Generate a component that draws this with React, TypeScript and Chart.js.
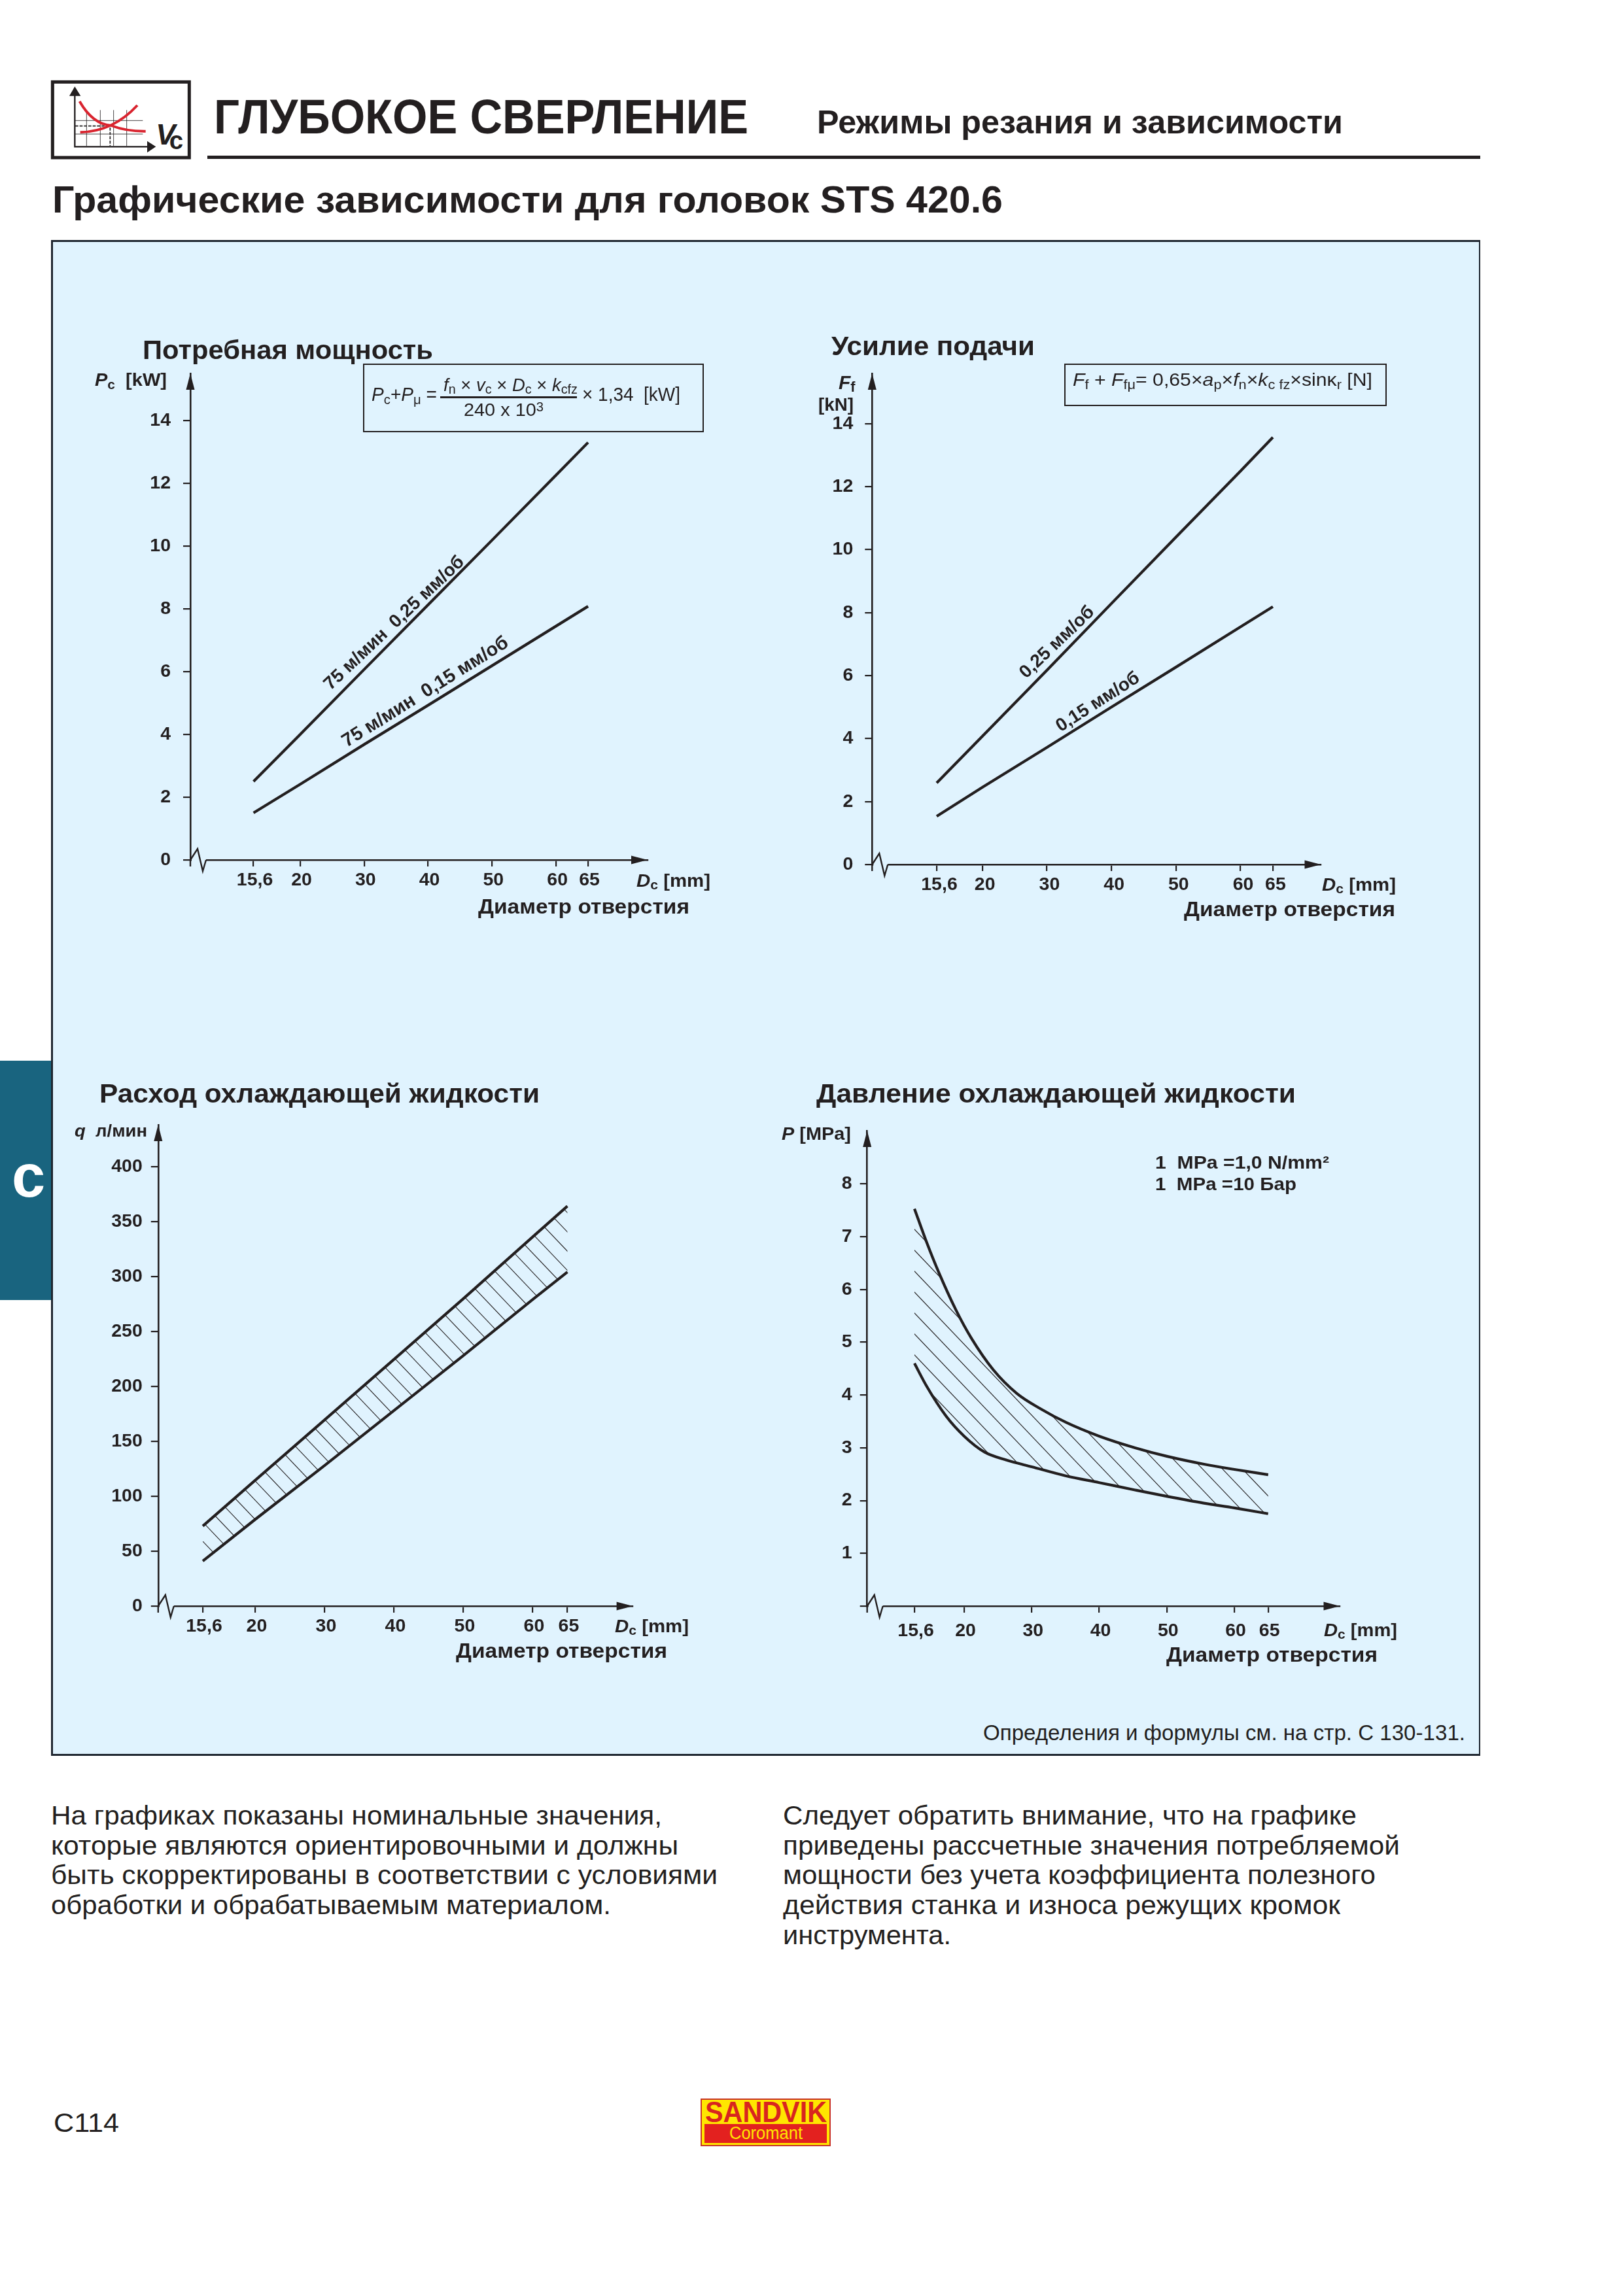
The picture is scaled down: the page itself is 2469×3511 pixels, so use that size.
import React, { useEffect, useRef } from "react";
import { Chart, LinearScale, LineController, LineElement, PointElement } from "chart.js";

// ---------- data ----------
const xTickValues = [15.6, 20, 30, 40, 50, 60, 65];
const xTickLabels = ["15,6", "20", "30", "40", "50", "60", "65"];

const powerTicks = [0, 2, 4, 6, 8, 10, 12, 14];
const powerFast = [2.5, 4.0, 6.07, 8.13, 10.19, 12.26, 13.3];
const powerSlow = [1.5, 2.41, 3.68, 4.93, 6.19, 7.45, 8.08];

const forceTicks = [0, 2, 4, 6, 8, 10, 12, 14];
const forceFast = [2.59, 4.07, 6.17, 8.29, 10.4, 12.5, 13.57];
const forceSlow = [1.53, 2.45, 3.72, 5.0, 6.27, 7.55, 8.19];

const flowTicks = [0, 50, 100, 150, 200, 250, 300, 350, 400];
const flowUpper = [72.8, 114.6, 169.5, 224.6, 279.8, 336, 364];
const flowLower = [41, 79, 128, 178, 228, 279, 304];

const pressureTicks = [0, 1, 2, 3, 4, 5, 6, 7, 8];
const pressureTickLabels = ["", "1", "2", "3", "4", "5", "6", "7", "8"];
const pressureUpperX = [15.6, 16.67, 17.8, 19.3, 21.1, 24.3, 27.8, 31.3, 35.1, 40, 45.3, 50, 55.5, 60, 65];
const pressureUpper = [7.53, 6.9, 6.3, 5.6, 5.07, 4.48, 4.03, 3.74, 3.48, 3.22, 3.0, 2.84, 2.69, 2.59, 2.49];
const pressureLowerX = [15.6, 16.67, 18.4, 20, 23, 26.2, 30, 35, 40, 45.3, 50, 55.5, 60, 65];
const pressureLower = [4.6, 4.17, 3.6, 3.22, 2.92, 2.77, 2.64, 2.47, 2.34, 2.2, 2.08, 1.95, 1.86, 1.75];

// ---------- style ----------
const INK = "#231f20";
const PANEL = "#e0f3fe";
const SANS = '"Liberation Sans", Arial, sans-serif';

// The drawn axis is stretched below Dc = 20, so the scale bends there.
class BentLinearScale extends LinearScale {
  static id = "bentLinear";
  static defaults = LinearScale.defaults;
  getPixelForValue(value: number) {
    const k = (this.options as any).bend ?? 1;
    return super.getPixelForValue(value < 20 ? 20 - (20 - value) * k : value);
  }
}
Chart.register(LinearScale, BentLinearScale, LineController, LineElement, PointElement);

type Spec = {
  box: { left: number; top: number; right: number; bottom: number };
  area: { left: number; top: number; right: number; bottom: number };
  xMin: number;
  xMax: number;
  bend: number;
  yMax: number;
  yTicks: number[];
  yLabels?: string[];
  yPad: number;
  xPad: number;
  xShift: number;
  series: { x: number[]; y: number[]; tension?: number }[];
  hatch?: { x: number; y: number; slope: number; gap: number };
  notes?: { text: string; x: number; y: number; angle: number; size: number }[];
};

function decorPlugin(spec: Spec) {
  return {
    id: "decor",
    beforeDatasetsDraw(chart: any) {
      const h = spec.hatch;
      if (!h) return;
      const { ctx, chartArea: ca } = chart;
      const a = chart.getDatasetMeta(0).data;
      const b = chart.getDatasetMeta(1).data;
      ctx.save();
      ctx.beginPath();
      a.forEach((p: any, i: number) => (i ? ctx.lineTo(p.x, p.y) : ctx.moveTo(p.x, p.y)));
      [...b].reverse().forEach((p: any) => ctx.lineTo(p.x, p.y));
      ctx.closePath();
      ctx.clip();
      ctx.strokeStyle = INK;
      ctx.lineWidth = 1.1;
      const c0 = h.y - spec.box.top - h.slope * (h.x - spec.box.left);
      for (let n = -80; n < 80; n++) {
        const c = c0 + n * h.gap;
        ctx.beginPath();
        ctx.moveTo(ca.left, c + h.slope * ca.left);
        ctx.lineTo(ca.right, c + h.slope * ca.right);
        ctx.stroke();
      }
      ctx.restore();
    },
    afterDraw(chart: any) {
      const { ctx, chartArea: ca, scales } = chart;
      const L = ca.left;
      const B = ca.bottom;
      ctx.save();
      // axis break
      ctx.fillStyle = PANEL;
      ctx.fillRect(L + 2, B - 3, 22, 6);
      ctx.strokeStyle = INK;
      ctx.lineWidth = 2.4;
      ctx.beginPath();
      ctx.moveTo(L, B);
      ctx.lineTo(L + 11, B - 17);
      ctx.lineTo(L + 19, B + 17);
      ctx.lineTo(L + 24, B);
      ctx.stroke();
      // axis foot below the origin
      ctx.beginPath();
      ctx.moveTo(L, B);
      ctx.lineTo(L, B + 10);
      ctx.stroke();
      // arrowheads
      ctx.fillStyle = INK;
      ctx.beginPath();
      ctx.moveTo(L, ca.top);
      ctx.lineTo(L - 6.5, ca.top + 25);
      ctx.lineTo(L + 6.5, ca.top + 25);
      ctx.closePath();
      ctx.fill();
      ctx.beginPath();
      ctx.moveTo(ca.right, B);
      ctx.lineTo(ca.right - 25, B - 6.5);
      ctx.lineTo(ca.right - 25, B + 6.5);
      ctx.closePath();
      ctx.fill();
      // notes along the lines
      ctx.textBaseline = "alphabetic";
      ctx.textAlign = "left";
      (spec.notes || []).forEach((n) => {
        ctx.save();
        ctx.font = `bold ${n.size}px ${SANS}`;
        ctx.translate(scales.x.getPixelForValue(n.x), scales.y.getPixelForValue(n.y));
        ctx.rotate((n.angle * Math.PI) / 180);
        ctx.fillText(n.text, 0, 0);
        ctx.restore();
      });
      ctx.restore();
    },
  };
}

function LineChart({ spec }: { spec: Spec }) {
  const ref = useRef<HTMLCanvasElement | null>(null);
  const { box, area } = spec;
  const width = box.right - box.left;
  const height = box.bottom - box.top;
  useEffect(() => {
    const tickFont = { family: SANS, size: 28.5, weight: "bold" as const };
    const chart = new Chart(ref.current as HTMLCanvasElement, {
      type: "line",
      data: {
        datasets: spec.series.map((s) => ({
          data: s.x.map((x, i) => ({ x, y: s.y[i] })),
          borderColor: INK,
          borderWidth: 4.2,
          pointRadius: 0,
          fill: false,
          tension: s.tension ?? 0,
          cubicInterpolationMode: s.tension ? ("monotone" as const) : ("default" as const),
        })),
      },
      options: {
        animation: false,
        responsive: false,
        devicePixelRatio: 1,
        layout: {
          padding: { left: 0, top: area.top - box.top, right: box.right - area.right, bottom: 0 },
        },
        plugins: { legend: { display: false }, title: { display: false }, tooltip: { enabled: false } },
        scales: {
          x: {
            type: "bentLinear" as any,
            bend: spec.bend,
            bounds: "data",
            min: spec.xMin,
            max: spec.xMax,
            grid: { drawOnChartArea: false, color: INK, lineWidth: 2.2, tickLength: 10 },
            border: { color: INK, width: 2.6 },
            afterBuildTicks: (s: any) => {
              s.ticks = xTickValues.map((value) => ({ value }));
            },
            afterFit: (s: any) => {
              s.height = box.bottom - area.bottom;
            },
            ticks: {
              autoSkip: false,
              maxRotation: 0,
              minRotation: 0,
              color: INK,
              font: tickFont,
              padding: spec.xPad,
              labelOffset: spec.xShift,
              callback: (_v: any, i: number) => xTickLabels[i],
            },
          } as any,
          y: {
            type: "linear",
            bounds: "data",
            min: 0,
            max: spec.yMax,
            grid: { drawOnChartArea: false, color: INK, lineWidth: 2.2, tickLength: 11 },
            border: { color: INK, width: 2.6 },
            afterBuildTicks: (s: any) => {
              s.ticks = spec.yTicks.map((value) => ({ value }));
            },
            afterFit: (s: any) => {
              s.width = area.left - box.left;
            },
            ticks: {
              autoSkip: false,
              color: INK,
              font: tickFont,
              padding: spec.yPad,
              callback: (v: any, i: number) => (spec.yLabels ? spec.yLabels[i] : String(spec.yTicks[i])),
            },
          } as any,
        },
      },
      plugins: [decorPlugin(spec)],
    });
    return () => chart.destroy();
  }, []);
  return (
    <canvas
      ref={ref}
      width={width}
      height={height}
      style={{ position: "absolute", left: box.left, top: box.top, width, height }}
    />
  );
}

const powerSpec: Spec = {
  box: { left: 110, top: 500, right: 1130, bottom: 1375 },
  area: { left: 291, top: 571, right: 990, bottom: 1315 },
  xMin: 2.82,
  xMax: 74.3,
  bend: 1.66,
  yMax: 15.5,
  yTicks: powerTicks,
  yPad: 19,
  xPad: 4,
  xShift: 2,
  series: [
    { x: xTickValues, y: powerFast },
    { x: xTickValues, y: powerSlow },
  ],
  notes: [
    { text: "75 м/мин  0,25 мм/об", x: 24.74, y: 5.39, angle: -43.5, size: 28 },
    { text: "75 м/мин  0,15 мм/об", x: 27.26, y: 3.58, angle: -32, size: 29 },
  ],
};

const forceSpec: Spec = {
  box: { left: 1230, top: 500, right: 2200, bottom: 1380 },
  area: { left: 1333.3, top: 571, right: 2019.5, bottom: 1322 },
  xMin: 2.94,
  xMax: 72.45,
  bend: 1.605,
  yMax: 15.6,
  yTicks: forceTicks,
  yPad: 18,
  xPad: 4,
  xShift: 4,
  series: [
    { x: xTickValues, y: forceFast },
    { x: xTickValues, y: forceSlow },
  ],
  notes: [
    { text: "0,25 мм/об", x: 26.8, y: 5.89, angle: -43.7, size: 28 },
    { text: "0,15 мм/об", x: 32.13, y: 4.2, angle: -32.8, size: 28 },
  ],
};

const flowSpec: Spec = {
  box: { left: 100, top: 1650, right: 1100, bottom: 2515 },
  area: { left: 241.8, top: 1720, right: 967.6, bottom: 2456 },
  xMin: 5.98,
  xMax: 74.45,
  bend: 1.724,
  yMax: 438,
  yTicks: flowTicks,
  yPad: 13,
  xPad: 4,
  xShift: 2,
  series: [
    { x: xTickValues, y: flowUpper },
    { x: xTickValues, y: flowLower },
  ],
  hatch: { x: 870.6, y: 1857.8, slope: 1.05, gap: 29.4 },
};

const pressureSpec: Spec = {
  box: { left: 1190, top: 1650, right: 2200, bottom: 2520 },
  area: { left: 1325.7, top: 1729, right: 2048.5, bottom: 2456 },
  xMin: 5.64,
  xMax: 75.63,
  bend: 1.672,
  yMax: 9.01,
  yTicks: pressureTicks,
  yLabels: pressureTickLabels,
  yPad: 12,
  xPad: 11,
  xShift: 2,
  series: [
    { x: pressureUpperX, y: pressureUpper, tension: 0.4 },
    { x: pressureLowerX, y: pressureLower, tension: 0.4 },
  ],
  hatch: { x: 1396.7, y: 2006.5, slope: 1.05, gap: 32 },
};

// ---------- page text ----------
function T({
  x,
  y,
  size,
  w,
  bold,
  italic,
  color,
  weight,
  children,
}: {
  x: number;
  y: number;
  size: number;
  w?: number;
  bold?: boolean;
  italic?: boolean;
  color?: string;
  weight?: number;
  children: React.ReactNode;
}) {
  return (
    <div
      ref={(el) => {
        if (el && w) {
          el.style.transform = "none";
          const actual = el.getBoundingClientRect().width;
          el.style.transform = `scaleX(${w / actual})`;
        }
      }}
      style={{
        position: "absolute",
        left: x,
        top: y - size * 0.3465,
        fontFamily: SANS,
        fontSize: size,
        lineHeight: 0,
        fontWeight: weight ?? (bold ? 700 : 400),
        fontStyle: italic ? "italic" : "normal",
        color: color ?? INK,
        whiteSpace: "pre",
        transformOrigin: "0 0",
      }}
    >
      {children}
    </div>
  );
}

const Sub = ({ children }: { children: React.ReactNode }) => (
  <span style={{ position: "relative", top: "0.22em", fontSize: "0.72em", fontStyle: "normal" }}>{children}</span>
);
const I = ({ children }: { children: React.ReactNode }) => <span style={{ fontStyle: "italic" }}>{children}</span>;
const Dc = () => (
  <>
    <I>D</I>
    <Sub>c</Sub> [mm]
  </>
);

const Rect = ({ x, y, w, h, fill, border }: { x: number; y: number; w: number; h: number; fill?: string; border?: string }) => (
  <div
    style={{
      position: "absolute",
      left: x,
      top: y,
      width: w,
      height: h,
      background: fill,
      border,
      boxSizing: "border-box",
    }}
  />
);

function Icon() {
  return (
    <svg
      viewBox="0 0 690 405"
      width={230}
      height={135}
      style={{ position: "absolute", left: 70, top: 115 }}
    >
      <rect x="31" y="31" width="627" height="347" fill="#fff" stroke="#231f20" strokeWidth="15" />
      <g stroke="#231f20" strokeWidth="2.5" fill="none">
        <path d="M187 160V325M250 160V325M311 160V325M371 160V325M135 208H445M135 270H445" />
      </g>
      <path d="M135 233H270M295 240V325" stroke="#231f20" strokeWidth="5" strokeDasharray="14 6" fill="none" />
      <path d="M155 120Q215 225 300 231Q370 258 458 257" stroke="#d9242f" strokeWidth="12" fill="none" />
      <path d="M158 262Q310 258 420 138" stroke="#d9242f" strokeWidth="12" fill="none" />
      <path d="M133 90V328H470" stroke="#231f20" strokeWidth="7" fill="none" />
      <path d="M133 52L108 95H160ZM505 328L465 302V355Z" fill="#231f20" />
      <text x="505" y="318" fontFamily={SANS} fontWeight="700" fontStyle="italic" fontSize="135" fill="#231f20">V</text>
      <text x="566" y="340" fontFamily={SANS} fontWeight="700" fontSize="115" fill="#231f20">c</text>
    </svg>
  );
}

function Logo() {
  return (
    <>
      <Rect x={1071} y={3209} w={199} h={73} fill="#ffe600" border="2px solid #c8332a" />
      <Rect x={1077} y={3248} w={187} h={29} fill="#e3211f" />
      <T x={1078} y={3245} size={44} w={186} bold color="#d8251f">SANDVIK</T>
      <T x={1115} y={3271} size={27} w={112} color="#ffe600">Coromant</T>
    </>
  );
}

const leftColumn = [
  { t: "На графиках показаны номинальные значения,", w: 934 },
  { t: "которые являются ориентировочными и должны", w: 959 },
  { t: "быть скорректированы в соответствии с условиями", w: 1019 },
  { t: "обработки и обрабатываемым материалом.", w: 856 },
];
const rightColumn = [
  { t: "Следует обратить внимание, что на графике", w: 877 },
  { t: "приведены рассчетные значения потребляемой", w: 943 },
  { t: "мощности без учета коэффициента полезного", w: 906 },
  { t: "действия станка и износа режущих кромок", w: 852 },
  { t: "инструмента.", w: 257 },
];
const LINE_TOPS = [2790, 2835.6, 2881, 2927, 2973];

export default function App() {
  return (
    <div
      style={{
        position: "absolute",
        left: 0,
        top: 0,
        width: 2469,
        height: 3511,
        background: "#fff",
        overflow: "hidden",
      }}
    >
      <Icon />
      <T x={327} y={204} size={75} w={817} bold>ГЛУБОКОЕ СВЕРЛЕНИЕ</T>
      <T x={1249} y={204} size={50} w={804} bold>Режимы резания и зависимости</T>
      <Rect x={317} y={238} w={1946} h={5} fill={INK} />
      <T x={80} y={325} size={57} w={1453} bold>Графические зависимости для головок STS 420.6</T>

      <Rect x={0} y={1622} w={78} h={366} fill="#19647f" />
      <T x={18} y={1830} size={92} bold color="#fff">c</T>

      <Rect x={78} y={367} w={2185} h={2318} fill={PANEL} />
      <Rect x={78} y={367} w={3} h={2318} fill="#1f2630" />
      <Rect x={2261} y={367} w={2} h={2318} fill="#1f2630" />
      <Rect x={78} y={367} w={2185} h={3} fill="#1f2630" />
      <Rect x={78} y={2682} w={2185} h={3} fill="#1f2630" />

      <LineChart spec={powerSpec} />
      <LineChart spec={forceSpec} />
      <LineChart spec={flowSpec} />
      <LineChart spec={pressureSpec} />

      {/* power */}
      <T x={218} y={549} size={41} w={444} bold>Потребная мощность</T>
      <T x={145} y={591} size={28} w={110} bold><I>P</I><Sub>c</Sub>  [kW]</T>
      <T x={973} y={1356} size={27} w={113} bold><Dc /></T>
      <T x={731} y={1398} size={31} w={323} bold>Диаметр отверстия</T>
      <Rect x={555} y={556} w={521} h={105} border={`2.5px solid ${INK}`} />
      <T x={568} y={613} size={29} w={100}><I>P</I><Sub>c</Sub>+<I>P</I><Sub>μ</Sub> =</T>
      <T x={678} y={598} size={27} w={205}><I>f</I><Sub>n</Sub> × <I>v</I><Sub>c</Sub> × <I>D</I><Sub>c</Sub> × <I>k</I><Sub>cfz</Sub></T>
      <Rect x={673} y={606} w={209} h={3} fill={INK} />
      <T x={709} y={637} size={28} w={122}>240 x 10<span style={{ position: "relative", top: "-0.35em", fontSize: "0.7em" }}>3</span></T>
      <T x={890} y={613} size={29} w={150}>× 1,34  [kW]</T>

      {/* force */}
      <T x={1271} y={543} size={41} w={311} bold>Усилие подачи</T>
      <T x={1282} y={595} size={30} bold><I>F</I><Sub>f</Sub></T>
      <T x={1251} y={628} size={27} w={54} bold>[kN]</T>
      <T x={2021} y={1362} size={27} w={113} bold><Dc /></T>
      <T x={1810} y={1402} size={31} w={323} bold>Диаметр отверстия</T>
      <Rect x={1627} y={556} w={493} h={65} border={`2.5px solid ${INK}`} />
      <T x={1640} y={591} size={28} w={458}>
        <I>F</I><Sub>f</Sub> + <I>F</I><Sub>fμ</Sub>= 0,65×<I>a</I><Sub>p</Sub>×<I>f</I><Sub>n</Sub>×<I>k</I><Sub>c fz</Sub>×sinκ<Sub>r</Sub> [N]
      </T>

      {/* flow */}
      <T x={152} y={1686} size={41} w={673} bold>Расход охлаждающей жидкости</T>
      <T x={114} y={1738} size={26} w={111} bold><I>q</I>  л/мин</T>
      <T x={940} y={2496} size={27} w={113} bold><Dc /></T>
      <T x={697} y={2536} size={31} w={323} bold>Диаметр отверстия</T>

      {/* pressure */}
      <T x={1247.5} y={1686} size={41} w={733} bold>Давление охлаждающей жидкости</T>
      <T x={1195} y={1743} size={27} w={106} bold><I>P</I> [MPa]</T>
      <T x={1766} y={1787} size={27} w={266} bold>1  MPa =1,0 N/mm²</T>
      <T x={1766} y={1820} size={27} w={216} bold>1  MPa =10 Бар</T>
      <T x={2024} y={2502} size={27} w={112} bold><Dc /></T>
      <T x={1783} y={2542} size={31} w={323} bold>Диаметр отверстия</T>

      <T x={1503} y={2661} size={33} w={737}>Определения и формулы см. на стр. C 130-131.</T>

      {leftColumn.map((l, i) => (
        <T key={l.t} x={78} y={LINE_TOPS[i]} size={40} w={l.w}>{l.t}</T>
      ))}
      {rightColumn.map((l, i) => (
        <T key={l.t} x={1197} y={LINE_TOPS[i]} size={40} w={l.w}>{l.t}</T>
      ))}

      <T x={82} y={3260} size={41} w={100}>C114</T>
      <Logo />
    </div>
  );
}
